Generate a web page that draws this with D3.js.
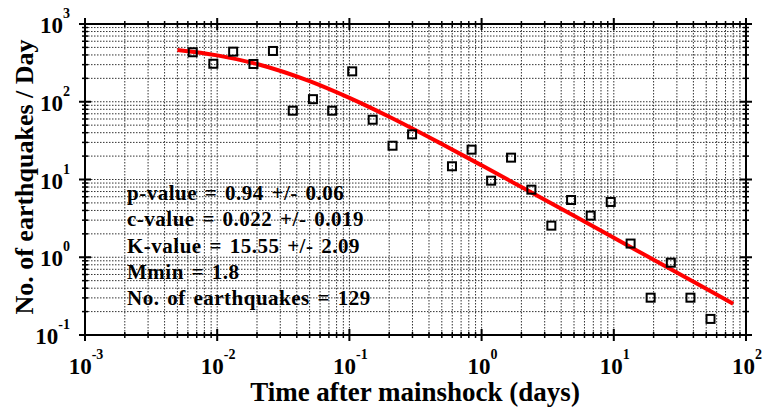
<!DOCTYPE html>
<html>
<head>
<meta charset="utf-8">
<script src="https://cdn.jsdelivr.net/npm/d3@7"></script>
<style>
  body { margin: 0; background: #fff; }
  svg { font-family: "Liberation Serif", "Times New Roman", serif; font-weight: bold; }
</style>
</head>
<body>
<div id="chart"></div>
<script>
var times = [0.00653, 0.00935, 0.0132, 0.0188, 0.0264, 0.0373, 0.053, 0.0741, 0.105, 0.15,
             0.212, 0.298, 0.597, 0.84, 1.18, 1.67, 2.38, 3.37, 4.75, 6.69,
             9.48, 13.4, 19.0, 27.0, 38.0, 53.9];
var rates = [433, 308, 441, 306, 450, 76.7, 108, 76.7, 246, 58.7,
             27.2, 38.1, 14.8, 24.2, 9.66, 19.1, 7.4, 2.55, 5.45, 3.43,
             5.14, 1.50, 0.302, 0.851, 0.302, 0.161];

// fitted curve
var fitTimes = [0.005, 0.01, 0.02, 0.05, 0.1, 0.2, 0.5, 1, 2, 5, 10, 20, 50, 80];
var fitRates = [463, 395, 306, 184, 112, 64, 28.6, 15.2, 8.0, 3.41, 1.78, 0.93, 0.394, 0.252];

var xExponents = [-3, -2, -1, 0, 1, 2];
var yExponents = [-1, 0, 1, 2, 3];

var statLines = [
  "p-value = 0.94 +/- 0.06",
  "c-value = 0.022 +/- 0.019",
  "K-value = 15.55 +/- 2.09",
  "Mmin = 1.8",
  "No. of earthquakes = 129"
];

var width = 764, height = 408;
var margin = { top: 24, right: 18, bottom: 73, left: 85 };
var w = width - margin.left - margin.right;
var h = height - margin.top - margin.bottom;

var x = d3.scaleLog().domain([1e-3, 1e2]).range([0, w]);
var y = d3.scaleLog().domain([1e-1, 1e3]).range([h, 0]);

var svg = d3.select("#chart").append("svg")
    .attr("width", width)
    .attr("height", height);

var g = svg.append("g")
    .attr("transform", "translate(" + margin.left + "," + margin.top + ")");

// major and minor positions
function minors(exps) {
  var out = [];
  for (var i = 0; i < exps.length - 1; i++) {
    for (var m = 2; m <= 9; m++) out.push(m * Math.pow(10, exps[i]));
  }
  return out;
}
var xMajor = xExponents.map(function (e) { return Math.pow(10, e); });
var yMajor = yExponents.map(function (e) { return Math.pow(10, e); });
var xMinor = minors(xExponents);
var yMinor = minors(yExponents);

// grid
var grid = g.append("g").attr("fill", "none");
grid.selectAll(".gx").data(xMinor.concat(xMajor)).enter().append("line")
    .attr("x1", function (d) { return x(d); })
    .attr("x2", function (d) { return x(d); })
    .attr("y1", 0).attr("y2", h)
    .attr("stroke", "#333")
    .attr("stroke-width", 1)
    .attr("stroke-dasharray", "1.5,1.5");
grid.selectAll(".gy").data(yMinor.concat(yMajor)).enter().append("line")
    .attr("y1", function (d) { return y(d); })
    .attr("y2", function (d) { return y(d); })
    .attr("x1", 0).attr("x2", w)
    .attr("stroke", "#333")
    .attr("stroke-width", 1)
    .attr("stroke-dasharray", "1.5,1.5");

// ticks (crossing the frame on all four sides)
var ticks = g.append("g").attr("stroke", "#000");
function hTicks(vals, len, sw) {
  [0, w].forEach(function (xx) {
    ticks.selectAll(null).data(vals).enter().append("line")
        .attr("x1", xx - len).attr("x2", xx + len)
        .attr("y1", function (d) { return y(d); })
        .attr("y2", function (d) { return y(d); })
        .attr("stroke-width", sw);
  });
}
function vTicks(vals, len, sw) {
  [0, h].forEach(function (yy) {
    ticks.selectAll(null).data(vals).enter().append("line")
        .attr("y1", yy - len).attr("y2", yy + len)
        .attr("x1", function (d) { return x(d); })
        .attr("x2", function (d) { return x(d); })
        .attr("stroke-width", sw);
  });
}
hTicks(yMinor, 3, 1.5);
hTicks(yMajor, 6, 2);
vTicks(xMinor, 3, 1.5);
vTicks(xMajor, 6, 2);

// frame
g.append("rect")
    .attr("width", w).attr("height", h)
    .attr("fill", "none")
    .attr("stroke", "#000")
    .attr("stroke-width", 2);

// tick labels
function powLabel(sel, e) {
  sel.append("tspan").text("10");
  sel.append("tspan").attr("dy", -15).attr("font-size", 14).text(e);
}
g.selectAll(".xl").data(xExponents).enter().append("text")
    .attr("x", function (e) { return x(Math.pow(10, e)) + 1; })
    .attr("y", h + 39)
    .attr("text-anchor", "middle")
    .attr("font-size", 23)
    .each(function (e) { powLabel(d3.select(this), e); });
g.selectAll(".yl").data(yExponents).enter().append("text")
    .attr("x", -15)
    .attr("y", function (e) { return y(Math.pow(10, e)) + 9; })
    .attr("text-anchor", "end")
    .attr("font-size", 23)
    .each(function (e) { powLabel(d3.select(this), e); });

// fitted line
var line = d3.line()
    .x(function (d) { return x(d[0]); })
    .y(function (d) { return y(d[1]); })
    .curve(d3.curveMonotoneX);
g.append("path")
    .datum(d3.zip(fitTimes, fitRates))
    .attr("d", line)
    .attr("fill", "none")
    .attr("stroke", "#ff0000")
    .attr("stroke-width", 4);

// observations
g.selectAll(".pt").data(d3.zip(times, rates)).enter().append("rect")
    .attr("x", function (d) { return x(d[0]) - 4; })
    .attr("y", function (d) { return y(d[1]) - 4; })
    .attr("width", 8).attr("height", 8)
    .attr("fill", "none")
    .attr("stroke", "#000")
    .attr("stroke-width", 2);

// statistics
g.selectAll(".st").data(statLines).enter().append("text")
    .attr("x", 42)
    .attr("y", function (d, i) { return 176 + i * 26.3; })
    .attr("font-size", 21)
    .attr("letter-spacing", 0.5)
    .attr("word-spacing", 2)
    .attr("fill", "#000")
    .text(function (d) { return d; });

// axis titles
svg.append("text")
    .attr("x", 415).attr("y", 401)
    .attr("text-anchor", "middle")
    .attr("font-size", 27)
    .text("Time after mainshock (days)");
svg.append("text")
    .attr("transform", "translate(33,177) rotate(-90)")
    .attr("text-anchor", "middle")
    .attr("font-size", 26)
    .text("No. of earthquakes / Day");
</script>
</body>
</html>
